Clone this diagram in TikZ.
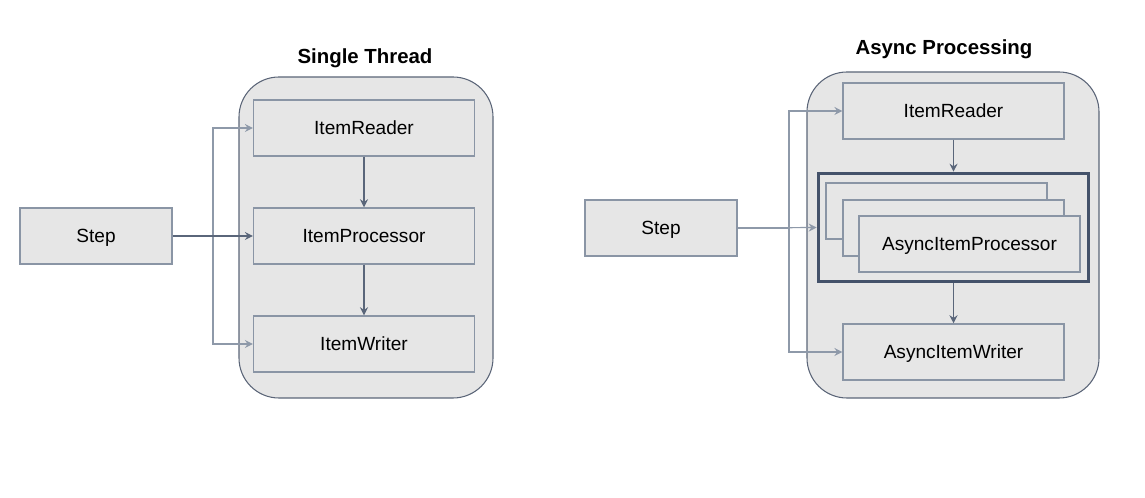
\documentclass[tikz,border=0pt]{standalone}
\usepackage{fontspec}
\setmainfont{Liberation Sans}
\usetikzlibrary{arrows.meta}
\definecolor{boxfill}{HTML}{E6E6E6}
\definecolor{boxline}{HTML}{8A95A5}
\definecolor{contline}{HTML}{5B6578}
\definecolor{connline}{HTML}{8E99A9}
\definecolor{darkline}{HTML}{5A667A}
\definecolor{thickline}{HTML}{44526A}
\tikzset{
  px/.style={x=0.75pt,y=-0.75pt},
  container/.style={draw=contline,fill=boxfill,line width=0.8pt,rounded corners=30pt,inner sep=0pt},
  stepbox/.style={draw=boxline,fill=boxfill,line width=1.1pt,inner sep=0pt,minimum width=114pt,minimum height=42pt,text height=10.25pt,text depth=0pt,font=\fontsize{14.3}{16}\selectfont},
  itembox/.style={draw=boxline,fill=boxfill,line width=1.1pt,inner sep=0pt,minimum width=165.5pt,minimum height=42pt,text height=10.25pt,text depth=0pt,font=\fontsize{14.3}{16}\selectfont},
  groupbox/.style={draw=thickline,fill=boxfill,line width=2.2pt,inner sep=0pt,minimum width=203pt,minimum height=81.5pt},
  title/.style={inner sep=0pt,text height=11pt,text depth=0pt,font=\bfseries\fontsize{15.3}{18}\selectfont},
  conn/.style={draw=connline,line width=0.9pt,-{Stealth[length=6pt,width=6pt,inset=2pt]}},
  flow/.style={draw=darkline,line width=0.8pt,-{Stealth[length=6pt,width=6pt,inset=2pt]}},
}
\begin{document}
\begin{tikzpicture}[px]
\useasboundingbox (0,0) rectangle (1145,498);
% ---------- Left: Single Thread ----------
\node[title] (t1) at (365,56) {Single Thread};
\node[container,minimum width=190.5pt,minimum height=240.75pt] (c1) at (366,237.5) {};
\node[stepbox] (step1) at (96,236) {Step};
\node[itembox] (r1) at (364,128) {ItemReader};
\node[itembox] (p1) at (364,236) {ItemProcessor};
\node[itembox] (w1) at (364,344) {ItemWriter};
\coordinate (j1) at (213,236);
\draw[conn] (step1.east) -- (j1) |- (r1.west);
\draw[conn] (step1.east) -- (j1) |- (w1.west);
\draw[conn,draw=darkline] (step1.east) -- (p1.west);
\draw[flow] (r1.south) -- (p1.north);
\draw[flow] (p1.south) -- (w1.north);
% ---------- Right: Async Processing ----------
\node[title] (t2) at (944,47) {Async Processing};
\node[container,minimum width=219pt,minimum height=244.5pt] (c2) at (953,235) {};
\node[stepbox] (step2) at (661,228) {Step};
\node[itembox] (r2) at (953.5,111) {ItemReader};
\node[groupbox] (g2) at (953.5,227.5) {};
\node[itembox] (b1) at (936.5,211) {};
\node[itembox] (b2) at (953.5,228) {};
\node[itembox] (p2) at (969.5,244) {AsyncItemProcessor};
\node[itembox] (w2) at (953.5,352) {AsyncItemWriter};
\coordinate (j2) at (789,228);
\draw[conn] (step2.east) -- (j2) |- (r2.west);
\draw[conn] (step2.east) -- (j2) |- (w2.west);
\draw[conn] (step2.east) -- (g2.west);
\draw[flow] (r2.south) -- (g2.north);
\draw[flow] (g2.south) -- (w2.north);
\end{tikzpicture}
\end{document}
